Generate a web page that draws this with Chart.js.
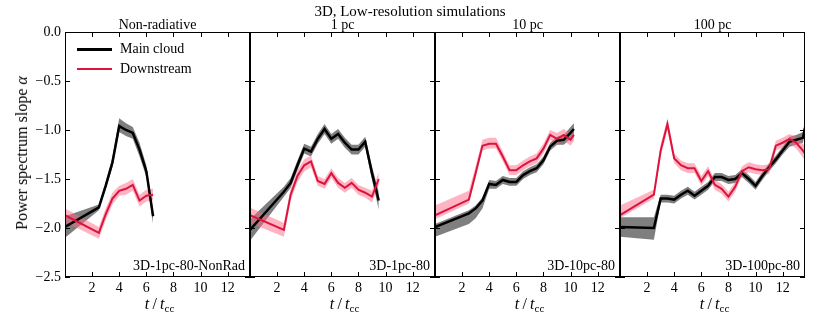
<!DOCTYPE html>
<html><head><meta charset="utf-8">
<script src="https://cdn.jsdelivr.net/npm/chart.js@4/dist/chart.umd.min.js"></script>
<style>
body{margin:0;width:822px;height:323px;background:#fff;position:relative;overflow:hidden;font-family:"Liberation Serif",serif;color:#000}
canvas{position:absolute;top:0}
.c{position:absolute;white-space:nowrap;transform:translate(-50%,-50%)}
.r{position:absolute;white-space:nowrap;transform:translate(-100%,-50%)}
.l{position:absolute;white-space:nowrap;transform:translate(0,-50%)}
.ln{position:absolute;height:0}
</style></head><body>
<script>
// ---- tick labels ----
const xTicks = [2, 4, 6, 8, 10, 12];
const yTicks = [0, -0.5, -1.0, -1.5, -2.0, -2.5];
const seriesNames = ["Main cloud", "Downstream"];
const panelTitles = ["Non-radiative", "1 pc", "10 pc", "100 pc"];
const runLabels = ["3D-1pc-80-NonRad", "3D-1pc-80", "3D-10pc-80", "3D-100pc-80"];

// ---- Non-radiative ----
const tNonRad = [0, 2.5, 3, 3.5, 4, 4.5, 5, 5.5, 6, 6.5];
const mainNonRad = [-1.99, -1.79, -1.57, -1.33, -0.96, -1.00, -1.03, -1.20, -1.42, -1.88];
const mainNonRadUp = [0.11, 0.03, 0.04, 0.05, 0.08, 0.07, 0.06, 0.07, 0.06, 0.06];
const mainNonRadDn = [0.11, 0.03, 0.04, 0.05, 0.06, 0.06, 0.06, 0.07, 0.06, 0.08];
const downNonRad = [-1.87, -2.05, -1.86, -1.70, -1.62, -1.60, -1.56, -1.72, -1.67, -1.66];
const downNonRadUp = [0.07, 0.06, 0.06, 0.06, 0.05, 0.06, 0.06, 0.06, 0.06, 0.06];
const downNonRadDn = [0.07, 0.06, 0.06, 0.06, 0.05, 0.06, 0.06, 0.06, 0.06, 0.06];

// ---- 1 pc ----
const t1pc = [0, 2.5, 3, 3.5, 4, 4.5, 5, 5.5, 6, 6.5, 7, 7.5, 8, 8.5, 9, 9.5];
const main1pc = [-2.02, -1.63, -1.54, -1.36, -1.19, -1.22, -1.09, -0.99, -1.09, -1.04, -1.13, -1.20, -1.20, -1.12, -1.44, -1.72];
const main1pcUp = [0.11, 0.05, 0.05, 0.05, 0.05, 0.05, 0.05, 0.05, 0.05, 0.05, 0.05, 0.05, 0.05, 0.05, 0.07, 0.09];
const main1pcDn = [0.11, 0.05, 0.05, 0.05, 0.05, 0.05, 0.05, 0.05, 0.05, 0.05, 0.05, 0.05, 0.05, 0.05, 0.07, 0.09];
const down1pc = [-1.87, -2.02, -1.66, -1.47, -1.36, -1.32, -1.52, -1.55, -1.44, -1.54, -1.59, -1.54, -1.61, -1.64, -1.68, -1.50];
const down1pcUp = [0.08, 0.07, 0.06, 0.06, 0.06, 0.06, 0.05, 0.05, 0.05, 0.05, 0.05, 0.05, 0.05, 0.05, 0.06, 0.07];
const down1pcDn = [0.08, 0.07, 0.06, 0.06, 0.06, 0.06, 0.05, 0.05, 0.05, 0.05, 0.05, 0.05, 0.05, 0.05, 0.06, 0.07];

// ---- 10 pc ----
const t10pc = [0, 2.5, 3, 3.5, 4, 4.5, 5, 5.5, 6, 6.5, 7, 7.5, 8, 8.5, 9, 9.5, 10, 10.25];
const main10pc = [-1.99, -1.85, -1.80, -1.72, -1.55, -1.56, -1.51, -1.53, -1.53, -1.46, -1.42, -1.39, -1.31, -1.17, -1.11, -1.10, -1.03, -0.99];
const main10pcUp = [0.03, 0.03, 0.03, 0.03, 0.04, 0.04, 0.04, 0.04, 0.04, 0.04, 0.04, 0.04, 0.04, 0.04, 0.04, 0.05, 0.06, 0.06];
const main10pcDn = [0.10, 0.11, 0.10, 0.08, 0.05, 0.04, 0.04, 0.04, 0.04, 0.04, 0.04, 0.04, 0.04, 0.04, 0.04, 0.05, 0.06, 0.06];
const down10pc = [-1.87, -1.71, -1.44, -1.16, -1.14, -1.14, -1.27, -1.41, -1.41, -1.36, -1.32, -1.29, -1.19, -1.05, -1.09, -1.05, -1.10, -1.05];
const down10pcUp = [0.10, 0.09, 0.07, 0.06, 0.06, 0.06, 0.05, 0.05, 0.05, 0.05, 0.05, 0.05, 0.05, 0.05, 0.06, 0.06, 0.06, 0.06];
const down10pcDn = [0.04, 0.04, 0.05, 0.05, 0.05, 0.05, 0.05, 0.05, 0.05, 0.05, 0.05, 0.05, 0.05, 0.05, 0.06, 0.06, 0.06, 0.06];

// ---- 100 pc ----
const t100pc = [0, 2.5, 3, 3.5, 4, 4.5, 5, 5.5, 6, 6.5, 7, 7.5, 8, 8.5, 9, 9.5, 10, 10.5, 11, 11.5, 12, 12.5, 13, 13.5, 13.65];
const main100pc = [-1.99, -2.00, -1.70, -1.70, -1.71, -1.66, -1.62, -1.67, -1.62, -1.57, -1.48, -1.48, -1.51, -1.50, -1.44, -1.50, -1.57, -1.47, -1.38, -1.30, -1.21, -1.12, -1.10, -1.08, -0.98];
const main100pcUp = [0.10, 0.11, 0.04, 0.04, 0.04, 0.04, 0.04, 0.04, 0.04, 0.04, 0.04, 0.04, 0.04, 0.04, 0.04, 0.04, 0.04, 0.04, 0.04, 0.04, 0.04, 0.05, 0.05, 0.06, 0.08];
const main100pcDn = [0.10, 0.12, 0.04, 0.04, 0.04, 0.04, 0.04, 0.04, 0.04, 0.04, 0.04, 0.04, 0.04, 0.04, 0.04, 0.04, 0.04, 0.04, 0.04, 0.04, 0.04, 0.05, 0.05, 0.05, 0.04];
const down100pc = [-1.87, -1.66, -1.21, -0.94, -1.29, -1.36, -1.39, -1.39, -1.52, -1.42, -1.56, -1.60, -1.68, -1.58, -1.42, -1.38, -1.40, -1.41, -1.40, -1.16, -1.13, -1.09, -1.13, -1.21, -1.24];
const down100pcUp = [0.10, 0.05, 0.06, 0.06, 0.05, 0.05, 0.05, 0.05, 0.05, 0.05, 0.05, 0.05, 0.05, 0.05, 0.05, 0.05, 0.05, 0.05, 0.05, 0.05, 0.05, 0.05, 0.06, 0.07, 0.07];
const down100pcDn = [0.03, 0.04, 0.06, 0.06, 0.05, 0.05, 0.05, 0.05, 0.05, 0.05, 0.05, 0.05, 0.05, 0.05, 0.05, 0.05, 0.05, 0.05, 0.05, 0.05, 0.05, 0.05, 0.06, 0.07, 0.07];

const xMax = 13.65, yMin = -2.5, yMax = 0;

const panels = [
  {t: tNonRad, m: mainNonRad, mu: mainNonRadUp, md: mainNonRadDn, d: downNonRad, du: downNonRadUp, dd: downNonRadDn},
  {t: t1pc, m: main1pc, mu: main1pcUp, md: main1pcDn, d: down1pc, du: down1pcUp, dd: down1pcDn},
  {t: t10pc, m: main10pc, mu: main10pcUp, md: main10pcDn, d: down10pc, du: down10pcUp, dd: down10pcDn},
  {t: t100pc, m: main100pc, mu: main100pcUp, md: main100pcDn, d: down100pc, du: down100pcUp, dd: down100pcDn}
];

// layout
const areaLeft = [65, 250, 435, 620];
const areaW = 185, areaTop = 32, areaH = 245, xAxisH = 22;
const COL_MAIN = "#000000", COL_DOWN = "#dc143c";
const BAND_MAIN = "rgba(0,0,0,0.5)", BAND_DOWN = "rgba(255,105,135,0.5)";
const FONT = '"Liberation Serif", serif';

function pts(t, v, e, s) { return t.map((x, i) => ({x: x, y: v[i] + s * (e ? e[i] : 0)})); }

const frameTicks = {
  id: 'frameTicks',
  afterDatasetsDraw(chart) {
    const ctx = chart.ctx, a = chart.chartArea, xs = chart.scales.x, ys = chart.scales.y;
    ctx.save();
    ctx.strokeStyle = "#000"; ctx.lineWidth = 1;
    ctx.strokeRect(a.left + 0.5, a.top + 0.5, a.right - a.left - 1, a.bottom - a.top - 1);
    ctx.beginPath();
    const L = 5;
    xTicks.forEach(v => {
      const p = Math.round(xs.getPixelForValue(v)) + 0.5;
      ctx.moveTo(p, a.bottom); ctx.lineTo(p, a.bottom - L);
      ctx.moveTo(p, a.top); ctx.lineTo(p, a.top + L);
    });
    yTicks.forEach(v => {
      const p = Math.round(ys.getPixelForValue(v)) + 0.5;
      ctx.moveTo(a.left, p); ctx.lineTo(a.left + L, p);
      ctx.moveTo(a.right, p); ctx.lineTo(a.right - L, p);
    });
    ctx.stroke();
    ctx.restore();
  }
};

function addDiv(cls, x, y, html, style) {
  const d = document.createElement('div');
  d.className = cls; d.style.left = x + 'px'; d.style.top = y + 'px';
  d.innerHTML = html; if (style) d.style.cssText += style;
  document.body.appendChild(d); return d;
}

panels.forEach((p, i) => {
  const first = i === 0;
  const cv = document.createElement('canvas');
  const cLeft = first ? 0 : areaLeft[i];
  const cW = first ? areaLeft[0] + areaW : areaW;
  const cH = areaTop + areaH + xAxisH;
  cv.width = cW; cv.height = cH;
  cv.style.left = cLeft + 'px'; cv.style.width = cW + 'px'; cv.style.height = cH + 'px';
  document.body.appendChild(cv);

  const lineCommon = {pointRadius: 0, tension: 0, fill: false, borderJoinStyle: 'miter'};
  const bandCommon = {pointRadius: 0, tension: 0, borderWidth: 0, borderColor: 'rgba(0,0,0,0)'};
  new Chart(cv, {
    type: 'line',
    data: {
      datasets: [
        Object.assign({label: 'mainLo', data: pts(p.t, p.m, p.md, -1), fill: false, order: 5}, bandCommon),
        Object.assign({label: 'mainHi', data: pts(p.t, p.m, p.mu, 1), fill: 0, backgroundColor: BAND_MAIN, order: 5}, bandCommon),
        Object.assign({label: 'downLo', data: pts(p.t, p.d, p.dd, -1), fill: false, order: 4}, bandCommon),
        Object.assign({label: 'downHi', data: pts(p.t, p.d, p.du, 1), fill: 2, backgroundColor: BAND_DOWN, order: 4}, bandCommon),
        Object.assign({label: seriesNames[0], data: pts(p.t, p.m, null, 0), borderColor: COL_MAIN, borderWidth: 2.5, order: 1}, lineCommon),
        Object.assign({label: seriesNames[1], data: pts(p.t, p.d, null, 0), borderColor: COL_DOWN, borderWidth: 2, order: 0}, lineCommon)
      ]
    },
    options: {
      responsive: false, animation: false, events: [], devicePixelRatio: 1,
      layout: {padding: {top: areaTop, left: 0, right: 0, bottom: 0}},
      plugins: {legend: {display: false}, tooltip: {enabled: false}, title: {display: false}},
      scales: {
        x: {
          type: 'linear', min: 0, max: xMax,
          afterBuildTicks: s => { s.ticks = xTicks.map(v => ({value: v})); },
          afterFit: s => { s.height = xAxisH; },
          grid: {display: false, drawTicks: false}, border: {display: false},
          ticks: {color: '#000', padding: 3, maxRotation: 0, font: {family: FONT, size: 14}, callback: v => String(v)}
        },
        y: {
          type: 'linear', min: yMin, max: yMax, display: first,
          afterBuildTicks: s => { s.ticks = yTicks.map(v => ({value: v})); },
          afterFit: s => { if (first) s.width = areaLeft[0]; },
          grid: {display: false, drawTicks: false}, border: {display: false},
          ticks: {color: '#000', padding: 4, font: {family: FONT, size: 14},
                  callback: v => v.toFixed(1).replace('-', '\u2212')}
        }
      }
    },
    plugins: [frameTicks]
  });

  const cx = areaLeft[i] + areaW / 2;
  addDiv('c', cx, 25, panelTitles[i], 'font-size:14px');
  addDiv('r', areaLeft[i] + areaW - 5, 266, runLabels[i], 'font-size:14px');
  addDiv('c', cx + 2, 304, '<i>t</i>&thinsp;/&thinsp;<i>t</i><sub style="font-size:11px;vertical-align:-3px">cc</sub>', 'font-size:16px');
});

addDiv('c', 410, 11, '3D, Low-resolution simulations', 'font-size:15px');
const yl = addDiv('c', 22, 153, 'Power spectrum slope <i>α</i>', 'font-size:16px');
yl.style.transform = 'translate(-50%,-50%) rotate(-90deg)';

// legend
[[COL_MAIN, 3, 49], [COL_DOWN, 2.5, 69]].forEach((s, k) => {
  addDiv('ln', 77, s[2] - s[1] / 2, '', 'width:35px;border-top:' + s[1] + 'px solid ' + s[0]);
  addDiv('l', 120, s[2], seriesNames[k], 'font-size:14px');
});
</script>
</body></html>
